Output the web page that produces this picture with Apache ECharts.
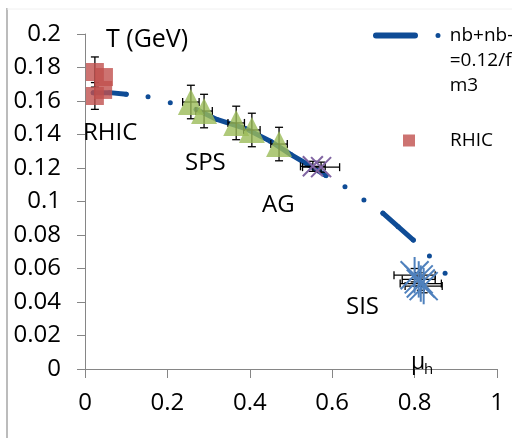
<!DOCTYPE html>
<html>
<head>
<meta charset="utf-8">
<script src="https://cdn.jsdelivr.net/npm/echarts@6/dist/echarts.min.js"></script>
<style>
html,body{margin:0;padding:0;background:#fff}
#main{width:512px;height:438px}
</style>
</head>
<body>
<div id="main"></div>
<script>
// nb+nb- = 0.12/fm3 curve, null = gap in the line
var curveMu = [0.02, 0.06, 0.10, null, 0.153, null, 0.207, null, 0.27, 0.32, 0.39, 0.45, 0.50, 0.545, 0.585, null, 0.631, null, 0.677, null, 0.723, 0.76, 0.797, null, 0.836, null, 0.874];
var curveT  = [0.165, 0.165, 0.164, null, 0.1626, null, 0.159, null, 0.155, 0.149, 0.1435, 0.136, 0.128, 0.1215, 0.1155, null, 0.1088, null, 0.1009, null, 0.093, 0.085, 0.077, null, 0.0675, null, 0.0571];

// RHIC
var rhicMu    = [0.024, 0.046, 0.024, 0.044];
var rhicT     = [0.1773, 0.1743, 0.163, 0.1666];
var rhicMuErr = [0, 0, 0, 0];
var rhicTErr  = [0.009, 0, 0.008, 0];

// SPS
var spsMu    = [0.257, 0.289, 0.367, 0.405, 0.471];
var spsT     = [0.1594, 0.154, 0.1469, 0.1427, 0.1343];
var spsMuErr = [0.02, 0.02, 0.02, 0.02, 0.02];
var spsTErr  = [0.01, 0.01, 0.01, 0.01, 0.01];

// AG
var agMu    = [0.553, 0.573];
var agT     = [0.121, 0.1205];
var agMuErr = [0.03, 0.045];
var agTErr  = [0.003, 0.003];

// SIS
var sisMu    = [0.80, 0.815, 0.822, 0.81];
var sisT     = [0.056, 0.051, 0.0495, 0.0535];
var sisMuErr = [0.05, 0.05, 0.045, 0.04];
var sisTErr  = [0.004, 0.004, 0.004, 0.004];

var xTicks = [0, 0.2, 0.4, 0.6, 0.8, 1];
var yMax = 0.2, yStep = 0.02;

var curveName = 'nb+nb-\n=0.12/f\nm3';
var FONT = '"Open Sans", sans-serif';

function zip(a, b, c, d) {
	var out = [];
	for (var i = 0; i < a.length; i++) {
		out.push(c ? [a[i], b[i], c[i], d[i]] : [a[i], b[i]]);
	}
	return out;
}

var curveData = [];
for (var i = 0; i < curveMu.length; i++) {
	curveData.push(curveMu[i] == null ? ['-', '-'] : [curveMu[i], curveT[i]]);
}

// 误差棒
function errRender(params, api) {
	var mu = api.value(0), t = api.value(1), em = api.value(2), et = api.value(3);
	var c = api.coord([mu, t]);
	var st = {stroke: '#000', lineWidth: 1.3};
	var cap = 4;
	var kids = [];
	if (et > 0) {
		var a = api.coord([mu, t + et]), b = api.coord([mu, t - et]);
		kids.push({type: 'line', shape: {x1: c[0], y1: a[1], x2: c[0], y2: b[1]}, style: st});
		kids.push({type: 'line', shape: {x1: c[0] - cap, y1: a[1], x2: c[0] + cap, y2: a[1]}, style: st});
		kids.push({type: 'line', shape: {x1: c[0] - cap, y1: b[1], x2: c[0] + cap, y2: b[1]}, style: st});
	}
	if (em > 0) {
		var l = api.coord([mu - em, t]), r = api.coord([mu + em, t]);
		kids.push({type: 'line', shape: {x1: l[0], y1: c[1], x2: r[0], y2: c[1]}, style: st});
		kids.push({type: 'line', shape: {x1: l[0], y1: c[1] - cap, x2: l[0], y2: c[1] + cap}, style: st});
		kids.push({type: 'line', shape: {x1: r[0], y1: c[1] - cap, x2: r[0], y2: c[1] + cap}, style: st});
	}
	return {type: 'group', children: kids};
}

// X / 星号 标记
function crossRender(withVertical, size, color) {
	return function (params, api) {
		var c = api.coord([api.value(0), api.value(1)]);
		var h = size / 2;
		var st = {stroke: color, lineWidth: 2};
		var kids = [
			{type: 'line', shape: {x1: c[0] - h, y1: c[1] - h, x2: c[0] + h, y2: c[1] + h}, style: st},
			{type: 'line', shape: {x1: c[0] - h, y1: c[1] + h, x2: c[0] + h, y2: c[1] - h}, style: st}
		];
		if (withVertical) {
			kids.push({type: 'line', shape: {x1: c[0], y1: c[1] - h * 1.3, x2: c[0], y2: c[1] + h * 1.3}, style: st});
		}
		return {type: 'group', children: kids};
	};
}

var myChart = echarts.init(document.getElementById('main'));
var option = {
	backgroundColor: '#fff',
	animation: false,
	textStyle: {fontFamily: FONT},
	grid: {left: 85, right: 15, top: 34, bottom: 69},
	legend: [
		{
			data: [{name: curveName, icon: 'path://M3,0 L42,0 A3,3 0 0 1 42,6 L3,6 A3,3 0 0 1 3,0 Z M65,0.5 A2.5,2.5 0 1 1 65,5.5 A2.5,2.5 0 1 1 65,0.5 Z'}],
			left: 373, top: -27, padding: 0,
			itemWidth: 68, itemHeight: 6,
			selectedMode: false,
			// 两行空行让第一行文字与图标对齐
			formatter: function (name) {
				var lines = ['{p|}', '{p|}'];
				name.split('\n').forEach(function (s) { lines.push('{p|}{t|' + s + '}'); });
				return lines.join('\n');
			},
			textStyle: {
				fontFamily: FONT, fontSize: 19, color: '#000', lineHeight: 25,
				rich: {
					p: {width: 4, lineHeight: 25},
					t: {fontFamily: FONT, fontSize: 19, color: '#000', lineHeight: 25}
				}
			}
		},
		{
			data: [{name: 'RHIC', icon: 'rect'}],
			left: 403, top: 131, padding: 0,
			itemWidth: 12, itemHeight: 12,
			selectedMode: false,
			formatter: '{p|}{t|RHIC}',
			textStyle: {
				fontFamily: FONT, fontSize: 19, color: '#000',
				rich: {
					p: {width: 30},
					t: {fontFamily: FONT, fontSize: 19, color: '#000'}
				}
			}
		}
	],
	xAxis: {
		type: 'value', min: xTicks[0], max: xTicks[xTicks.length - 1], interval: 0.2,
		splitLine: {show: false},
		axisLine: {lineStyle: {color: '#868686', width: 1}},
		axisTick: {length: 9, lineStyle: {color: '#868686'}},
		axisLabel: {color: '#000', fontSize: 24, fontFamily: FONT, margin: 22}
	},
	yAxis: {
		type: 'value', min: 0, max: yMax, interval: yStep,
		splitLine: {show: false},
		axisLine: {show: true, lineStyle: {color: '#868686', width: 1}},
		axisTick: {show: true, length: 8, lineStyle: {color: '#868686'}},
		axisLabel: {color: '#000', fontSize: 24, fontFamily: FONT, margin: 24}
	},
	series: [
		{
			name: curveName, type: 'line', data: curveData,
			color: '#0f4c96',
			symbol: 'circle', symbolSize: 5, showSymbol: true,
			lineStyle: {width: 5, cap: 'round', join: 'round'},
			connectNulls: false, silent: true, z: 1
		},
		{
			type: 'custom', name: 'err',
			renderItem: errRender, encode: {x: 0, y: 1}, clip: false, silent: true, z: 2,
			data: zip(rhicMu, rhicT, rhicMuErr, rhicTErr)
				.concat(zip(spsMu, spsT, spsMuErr, spsTErr))
				.concat(zip(agMu, agT, agMuErr, agTErr))
				.concat(zip(sisMu, sisT, sisMuErr, sisTErr))
		},
		{
			name: 'RHIC', type: 'scatter', data: zip(rhicMu, rhicT),
			symbol: 'rect', symbolSize: 18, color: '#c0504d', silent: true, z: 3
		},
		{
			name: 'SPS', type: 'scatter', data: zip(spsMu, spsT),
			symbol: 'triangle', symbolSize: 26, color: '#9bbb59', silent: true, z: 3
		},
		{
			name: 'AG', type: 'custom', renderItem: crossRender(false, 20, '#8064a2'),
			encode: {x: 0, y: 1}, data: zip(agMu, agT), silent: true, z: 3
		},
		{
			name: 'SIS', type: 'custom', renderItem: crossRender(true, 28, '#4f81bd'),
			encode: {x: 0, y: 1}, data: zip(sisMu, sisT), silent: true, z: 3
		}
	],
	graphic: [
		{type: 'line', shape: {x1: 7, y1: 8, x2: 7, y2: 438}, style: {stroke: '#a6a6a6', lineWidth: 1.5}},
		{type: 'line', shape: {x1: 7, y1: 9, x2: 512, y2: 9}, style: {stroke: '#f0f0f0', lineWidth: 1}},
		{type: 'text', x: 106, y: 40, z: 10, style: {text: 'T (GeV)', font: '25px ' + FONT, fill: '#000', verticalAlign: 'middle'}},
		{type: 'text', x: 83, y: 133, z: 10, style: {text: 'RHIC', font: '24px ' + FONT, fill: '#000', verticalAlign: 'middle'}},
		{type: 'text', x: 185, y: 163, z: 10, style: {text: 'SPS', font: '24px ' + FONT, fill: '#000', verticalAlign: 'middle'}},
		{type: 'text', x: 262, y: 205, z: 10, style: {text: 'AG', font: '24px ' + FONT, fill: '#000', verticalAlign: 'middle'}},
		{type: 'text', x: 346, y: 307, z: 10, style: {text: 'SIS', font: '24px ' + FONT, fill: '#000', verticalAlign: 'middle'}},
		{type: 'text', x: 411, y: 362, z: 10, style: {text: 'μ', font: '23px ' + FONT, fill: '#000', verticalAlign: 'middle'}},
		{type: 'text', x: 424, y: 370, z: 10, style: {text: 'h', font: '15px ' + FONT, fill: '#000', verticalAlign: 'middle'}}
	]
};
myChart.setOption(option);
</script>
</body>
</html>
